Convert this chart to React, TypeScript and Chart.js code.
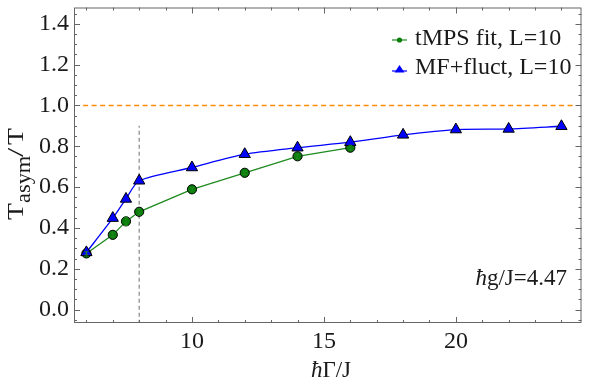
import React, { useEffect, useRef } from "react";
import { Chart, registerables } from "chart.js";

Chart.register(...registerables);

const tmpsX = [6, 7, 7.5, 8, 10, 12, 14, 16];
const tmpsY = [0.275, 0.366, 0.432, 0.479, 0.589, 0.67, 0.751, 0.793];
const tmpsErr = [0.008, 0.01, 0.02, 0.015, 0.008, 0.008, 0.01, 0.012];

const mfX = [6, 7, 7.5, 8, 10, 12, 14, 16, 18, 20, 22, 24];
const mfY = [0.28, 0.448, 0.542, 0.631, 0.696, 0.761, 0.793, 0.82, 0.856, 0.882, 0.885, 0.898];

const refLineX = [5.875, 24.5];
const refLineY = [1.0, 1.0];
const critX = [8, 8];
const critY = [-0.07, 0.9];

const xTickValues = [10, 15, 20];
const yTickValues = [0, 0.2, 0.4, 0.6, 0.8, 1.0, 1.2, 1.4];
const xRange = [5.53, 24.76];
const yRange = [-0.066, 1.48];

const seriesNames = ["tMPS fit, L=10", "MF+fluct, L=10"];
const xTitle = ["ħ", "Γ/J"];
const yTitle = ["T", "asym", "/", "T"];
const annotation = ["ħ", "g/J=4.47"];

const FONT = "'Liberation Serif', 'DejaVu Serif', serif";
const TEXT = "#1a1a1a";
const AXIS = "#666";
const GREEN_LINE = "#1f8a1f";
const GREEN_FILL = "#0a7d0a";
const BLUE = "#0000ff";

function pts(xs: number[], ys: number[]) {
  return xs.map((x, i) => ({ x, y: ys[i] }));
}

function drawPiece(ctx: any, text: string, u: number, v: number, size: number, sx: number) {
  ctx.save();
  ctx.translate(u, v);
  ctx.scale(sx, 1);
  ctx.font = `${size}px ${FONT}`;
  ctx.fillText(text, 0, 0);
  ctx.restore();
}

const framePlugin = {
  id: "frameDecor",
  afterDatasetsDraw(chart: any) {
    const ctx = chart.ctx;
    const xs = chart.scales.x;
    const ys = chart.scales.y;
    ctx.save();
    ctx.strokeStyle = GREEN_LINE;
    ctx.lineWidth = 1;
    tmpsX.forEach((x, i) => {
      const px = xs.getPixelForValue(x);
      const y1 = ys.getPixelForValue(tmpsY[i] - tmpsErr[i]);
      const y2 = ys.getPixelForValue(tmpsY[i] + tmpsErr[i]);
      ctx.beginPath();
      ctx.moveTo(px, y1);
      ctx.lineTo(px, y2);
      ctx.moveTo(px - 2, y1);
      ctx.lineTo(px + 2, y1);
      ctx.moveTo(px - 2, y2);
      ctx.lineTo(px + 2, y2);
      ctx.stroke();
    });
    ctx.restore();
  },
  afterDraw(chart: any) {
    const ctx = chart.ctx;
    const { left, right, top, bottom } = chart.chartArea;
    const xs = chart.scales.x;
    const ys = chart.scales.y;
    ctx.save();
    ctx.strokeStyle = AXIS;
    ctx.lineWidth = 1;
    ctx.strokeRect(left + 0.5, top + 0.5, right - left - 1, bottom - top - 1);
    for (let v = 6; v <= 24; v += 1) {
      const px = Math.round(xs.getPixelForValue(v)) + 0.5;
      const len = v % 5 === 0 ? 6 : 3;
      ctx.beginPath();
      ctx.moveTo(px, bottom);
      ctx.lineTo(px, bottom - len);
      ctx.moveTo(px, top);
      ctx.lineTo(px, top + len);
      ctx.stroke();
    }
    for (let k = -1; k <= 29; k++) {
      const v = k * 0.05;
      const py = Math.round(ys.getPixelForValue(v)) + 0.5;
      if (py < top || py > bottom) continue;
      const len = k % 4 === 0 ? 6 : 3;
      ctx.beginPath();
      ctx.moveTo(left, py);
      ctx.lineTo(left + len, py);
      ctx.moveTo(right, py);
      ctx.lineTo(right - len, py);
      ctx.stroke();
    }
    ctx.restore();

    ctx.save();
    ctx.fillStyle = TEXT;
    ctx.textBaseline = "alphabetic";
    // x title
    ctx.font = `italic 23px ${FONT}`;
    const w1 = ctx.measureText(xTitle[0]).width;
    ctx.font = `23px ${FONT}`;
    const w2 = ctx.measureText(xTitle[1]).width;
    const sx = 331 - (w1 + w2) / 2;
    ctx.font = `italic 23px ${FONT}`;
    ctx.fillText(xTitle[0], sx, 377);
    ctx.font = `23px ${FONT}`;
    ctx.fillText(xTitle[1], sx + w1, 377);

    // annotation
    ctx.font = `italic 23px ${FONT}`;
    const a1 = ctx.measureText(annotation[0]).width;
    ctx.font = `23px ${FONT}`;
    const a2 = ctx.measureText(annotation[1]).width;
    const ax = 567 - a1 - a2;
    ctx.font = `italic 23px ${FONT}`;
    ctx.fillText(annotation[0], ax, 285);
    ctx.font = `23px ${FONT}`;
    ctx.fillText(annotation[1], ax + a1, 285);

    // y title (rotated): x' = 170 - imageY, y' = imageX
    ctx.save();
    ctx.translate(0, 170);
    ctx.rotate(-Math.PI / 2);
    drawPiece(ctx, yTitle[0], -50, 23, 23, 1.2);
    drawPiece(ctx, yTitle[1], -33, 30, 20, 1.12);
    drawPiece(ctx, yTitle[2], 13, 23, 24, 1.4);
    drawPiece(ctx, yTitle[3], 25, 23, 23, 1.2);
    ctx.restore();

    // legend
    ctx.font = `24px ${FONT}`;
    ctx.fillText(seriesNames[0], 415, 45);
    ctx.fillText(seriesNames[1], 415, 74);
    ctx.lineWidth = 1.2;
    ctx.strokeStyle = GREEN_LINE;
    ctx.beginPath();
    ctx.moveTo(392, 40);
    ctx.lineTo(407, 40);
    ctx.stroke();
    ctx.fillStyle = GREEN_FILL;
    ctx.beginPath();
    ctx.arc(399.5, 40, 2.6, 0, Math.PI * 2);
    ctx.fill();
    ctx.strokeStyle = BLUE;
    ctx.beginPath();
    ctx.moveTo(392, 71);
    ctx.lineTo(407, 71);
    ctx.stroke();
    ctx.fillStyle = BLUE;
    ctx.beginPath();
    ctx.moveTo(399.5, 65);
    ctx.lineTo(404.5, 72.5);
    ctx.lineTo(394.5, 72.5);
    ctx.closePath();
    ctx.fill();
    ctx.restore();
  },
};

export default function App() {
  const ref = useRef<HTMLCanvasElement | null>(null);
  useEffect(() => {
    if (!ref.current) return;
    let chart: any = null;
    let cancelled = false;
    const build = () => {
      if (cancelled || !ref.current) return;
      chart = new Chart(ref.current, {
        type: "scatter",
        data: {
          datasets: [
            {
              label: seriesNames[1],
              data: pts(mfX, mfY),
              showLine: true,
              borderColor: BLUE,
              backgroundColor: BLUE,
              borderWidth: 1.3,
              pointStyle: "triangle",
              pointRadius: 6.5,
              pointBorderColor: "#000",
              pointBorderWidth: 1,
              tension: 0.25,
              order: 1,
            } as any,
            {
              label: seriesNames[0],
              data: pts(tmpsX, tmpsY),
              showLine: true,
              borderColor: GREEN_LINE,
              backgroundColor: GREEN_FILL,
              borderWidth: 1.3,
              pointStyle: "circle",
              pointRadius: 4.6,
              pointBorderColor: "#000",
              pointBorderWidth: 1,
              order: 2,
            } as any,
            {
              label: "ref",
              data: pts(refLineX, refLineY),
              showLine: true,
              borderColor: "#ff8c00",
              borderWidth: 1.5,
              borderDash: [5, 3.5],
              pointRadius: 0,
              order: 3,
            } as any,
            {
              label: "crit",
              data: pts(critX, critY),
              showLine: true,
              borderColor: "#888",
              borderWidth: 1.2,
              borderDash: [4, 3],
              pointRadius: 0,
              order: 4,
            } as any,
          ],
        },
        options: {
          animation: false,
          responsive: false,
          maintainAspectRatio: false,
          layout: { padding: { top: 0, right: 2, left: 0, bottom: 0 } },
          plugins: { legend: { display: false }, tooltip: { enabled: false } },
          scales: {
            x: {
              type: "linear",
              min: xRange[0],
              max: xRange[1],
              grid: { display: false, drawTicks: false },
              border: { display: false },
              afterBuildTicks: (s: any) => {
                s.ticks = xTickValues.map((v) => ({ value: v }));
              },
              afterFit: (s: any) => {
                s.height = 60;
                s.paddingLeft = 0;
                s.paddingRight = 0;
              },
              ticks: {
                padding: 4,
                color: TEXT,
                font: { family: FONT, size: 24 },
                callback: (v: any) => String(v),
              },
            },
            y: {
              type: "linear",
              min: yRange[0],
              max: yRange[1],
              grid: { display: false, drawTicks: false },
              border: { display: false },
              afterBuildTicks: (s: any) => {
                s.ticks = yTickValues.map((v) => ({ value: v }));
              },
              afterFit: (s: any) => {
                s.width = 74;
                s.paddingTop = 0;
                s.paddingBottom = 0;
              },
              ticks: {
                padding: 5,
                color: TEXT,
                font: { family: FONT, size: 24 },
                callback: (v: any) => Number(v).toFixed(1),
              },
            },
          },
        },
        plugins: [framePlugin],
      });
    };
    const fonts: any = (document as any).fonts;
    if (fonts && fonts.load) {
      Promise.all([
        fonts.load("22px 'Liberation Serif'"),
        fonts.load("italic 22px 'Liberation Serif'"),
      ])
        .catch(() => null)
        .then(build);
    } else {
      build();
    }
    return () => {
      cancelled = true;
      if (chart) chart.destroy();
    };
  }, []);
  return (
    <div style={{ position: "fixed", left: 0, top: 0, width: 589, height: 383, background: "#fff" }}>
      <canvas ref={ref} width={589} height={383} style={{ width: 589, height: 383 }} />
    </div>
  );
}
